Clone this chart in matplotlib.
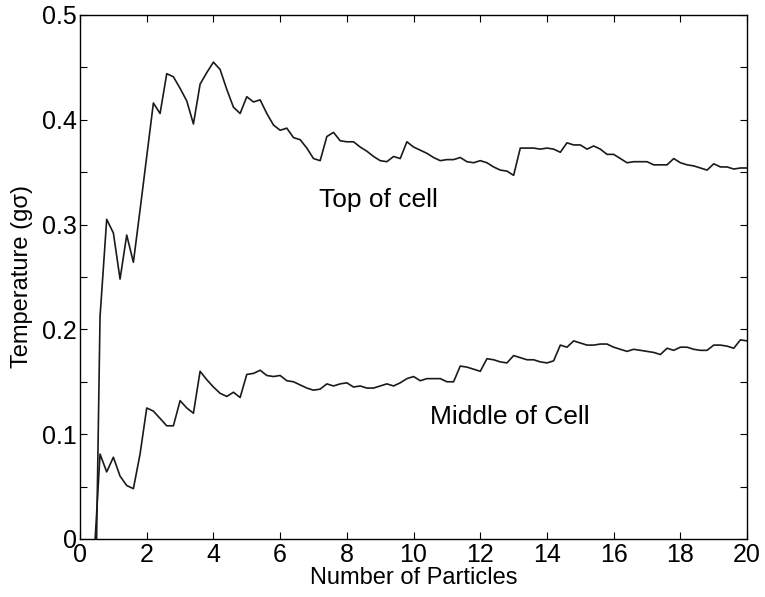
import matplotlib
matplotlib.use('Agg')
import matplotlib.pyplot as plt
import numpy as np
from matplotlib.ticker import MultipleLocator, FuncFormatter

plt.rcParams['font.family'] = ['Liberation Sans', 'DejaVu Sans']

# particle counts sampled every 0.2 from 0.4 to 20
n_particles = np.round(np.arange(0.4, 20.01, 0.2), 1)

temp_top = [
    -0.200, 0.212, 0.305, 0.292, 0.248, 0.290, 0.264, 0.314, 0.365, 0.416,
    0.406, 0.444, 0.441, 0.430, 0.418, 0.396, 0.434, 0.445, 0.455, 0.448,
    0.429, 0.412, 0.406, 0.422, 0.417, 0.419, 0.406, 0.395, 0.390, 0.392,
    0.383, 0.381, 0.373, 0.363, 0.361, 0.384, 0.388, 0.380, 0.379, 0.379,
    0.374, 0.370, 0.365, 0.361, 0.360, 0.365, 0.363, 0.379, 0.374, 0.371,
    0.368, 0.364, 0.361, 0.362, 0.362, 0.364, 0.360, 0.359, 0.361, 0.359,
    0.355, 0.352, 0.351, 0.347, 0.373, 0.373, 0.373, 0.372, 0.373, 0.372,
    0.369, 0.378, 0.376, 0.376, 0.372, 0.375, 0.372, 0.367, 0.367, 0.363,
    0.359, 0.360, 0.360, 0.360, 0.357, 0.357, 0.357, 0.363, 0.359, 0.357,
    0.356, 0.354, 0.352, 0.358, 0.355, 0.355, 0.353, 0.354, 0.354,
]

temp_middle = [
    -0.030, 0.081, 0.064, 0.078, 0.060, 0.051, 0.048, 0.081, 0.125, 0.122,
    0.115, 0.108, 0.108, 0.132, 0.125, 0.120, 0.160, 0.152, 0.145, 0.139,
    0.136, 0.140, 0.135, 0.157, 0.158, 0.161, 0.156, 0.155, 0.156, 0.151,
    0.150, 0.147, 0.144, 0.142, 0.143, 0.148, 0.146, 0.148, 0.149, 0.145,
    0.146, 0.144, 0.144, 0.146, 0.148, 0.146, 0.149, 0.153, 0.155, 0.151,
    0.153, 0.153, 0.153, 0.150, 0.150, 0.165, 0.164, 0.162, 0.160, 0.172,
    0.171, 0.169, 0.168, 0.175, 0.173, 0.171, 0.171, 0.169, 0.168, 0.170,
    0.185, 0.183, 0.189, 0.187, 0.185, 0.185, 0.186, 0.186, 0.183, 0.181,
    0.179, 0.181, 0.180, 0.179, 0.178, 0.176, 0.182, 0.180, 0.183, 0.183,
    0.181, 0.180, 0.180, 0.185, 0.185, 0.184, 0.182, 0.190, 0.189,
]

fig = plt.figure(figsize=(7.65, 5.97), dpi=100)
ax = fig.add_axes([0.1046, 0.0972, 0.872, 0.8777])

ax.plot(n_particles, temp_top, color='#1a1a1a', lw=1.2)
ax.plot(n_particles, temp_middle, color='#1a1a1a', lw=1.2)

ax.text(7.15, 0.323, 'Top of cell', fontsize=19, va='center', ha='left')
ax.text(10.5, 0.116, 'Middle of Cell', fontsize=19, va='center', ha='left')

ax.set_xlim(0, 20)
ax.set_ylim(0, 0.5)
ax.xaxis.set_major_locator(MultipleLocator(2))
ax.yaxis.set_major_locator(MultipleLocator(0.1))
ax.yaxis.set_minor_locator(MultipleLocator(0.05))
ax.yaxis.set_major_formatter(FuncFormatter(lambda v, p: '%g' % round(v, 2)))
ax.tick_params(which='both', direction='in', top=True, right=True,
               length=5, width=0.8, labelsize=18)
ax.tick_params(axis='x', pad=3)
ax.tick_params(axis='y', pad=2)

for s in ax.spines.values():
    s.set_linewidth(1.0)

ax.set_xlabel('Number of Particles', fontsize=17, va='center')
ax.set_ylabel('Temperature (g\u03c3)', fontsize=17, va='center')
ax.xaxis.set_label_coords(0.5, -0.075)
ax.yaxis.set_label_coords(-0.087, 0.5)

fig.savefig('out.png', dpi=100)
